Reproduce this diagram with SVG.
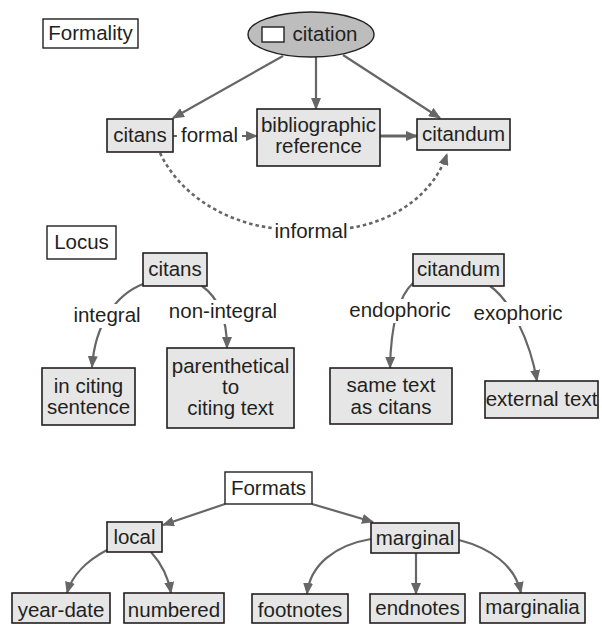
<svg xmlns="http://www.w3.org/2000/svg" width="602" height="624" viewBox="0 0 602 624">
<style>
text{font-family:"Liberation Sans",Arial,sans-serif;font-size:20.5px;fill:#231f20;text-anchor:middle}
.box{fill:#e6e6e6;stroke:#231f20;stroke-width:1.6}
.hdr{fill:#fff;stroke:#231f20;stroke-width:1.4}
.e{fill:none;stroke:#666;stroke-width:2.2}
.dot{fill:none;stroke:#666;stroke-width:2.6;stroke-dasharray:3.5 3}
.bg{fill:#fff}
</style>
<defs>
<marker id="ah" viewBox="0 0 12 10" refX="11" refY="5" markerWidth="12" markerHeight="10" markerUnits="userSpaceOnUse" orient="auto">
<path d="M0,0 L12,5 L0,10 Z" fill="#666"/>
</marker>
</defs>
<g id="connectors">
<path class="e" d="M283,56 L173,118" marker-end="url(#ah)"/>
<path class="e" d="M316,57 L316,109" marker-end="url(#ah)"/>
<path class="e" d="M343,55 L440,118" marker-end="url(#ah)"/>
<path class="e" d="M380,136 L417,136" style="stroke-width:3.2" marker-end="url(#ah)"/>
<path class="e" d="M173,136 L257,136" marker-end="url(#ah)"/>
<rect class="bg" x="177" y="124" width="65" height="24"/>
<text x="209.5" y="142">formal</text>
<path class="dot" d="M160,153 C180,195 225,222 272,228"/>
<path class="dot" d="M350,228 C400,220 435,190 447,154" marker-end="url(#ah)"/>
<text x="311" y="238">informal</text>
<path class="e" d="M143,284 C115,295 95,325 92,367" marker-end="url(#ah)"/>
<rect class="bg" x="72" y="304" width="70" height="24"/>
<text x="107" y="322">integral</text>
<path class="e" d="M202,286 C216,296 227,315 227,348" marker-end="url(#ah)"/>
<rect class="bg" x="168" y="300" width="110" height="24"/>
<text x="223" y="318">non-integral</text>
<path class="e" d="M413,283 C400,295 391,320 390,368" marker-end="url(#ah)"/>
<rect class="bg" x="348" y="299" width="104" height="24"/>
<text x="400" y="317">endophoric</text>
<path class="e" d="M490,286 C510,300 530,340 537,381" marker-end="url(#ah)"/>
<rect class="bg" x="472" y="302" width="92" height="24"/>
<text x="518" y="320">exophoric</text>
<path class="e" d="M225,504 L163,525" marker-end="url(#ah)"/>
<path class="e" d="M312,504 L373,522" marker-end="url(#ah)"/>
<path class="e" d="M107,550 C88,560 72,575 67,593" marker-end="url(#ah)"/>
<path class="e" d="M151,552 C160,562 168,575 171,593" marker-end="url(#ah)"/>
<path class="e" d="M371,539 C335,545 310,565 307,594" marker-end="url(#ah)"/>
<path class="e" d="M416,553 L416,594" marker-end="url(#ah)"/>
<path class="e" d="M459,540 C490,548 515,565 521,593" marker-end="url(#ah)"/>
</g>
<g id="formality"><rect class="hdr" x="43" y="19" width="95" height="29"/><text x="90.5" y="40">Formality</text></g>
<g id="citation"><ellipse cx="311" cy="34.5" rx="63" ry="22.5" fill="#bdbdbd" stroke="#231f20" stroke-width="1.4"/><rect x="262" y="27" width="22" height="15" fill="#fff" stroke="#231f20" stroke-width="1.4"/><text x="325" y="41">citation</text></g>
<g id="citans1"><rect class="box" x="107" y="119" width="66" height="33"/><text x="140" y="142">citans</text></g>
<g id="bibref"><rect class="box" x="257" y="109" width="123" height="57"/><text x="318.5" y="132">bibliographic</text><text x="318.5" y="153">reference</text></g>
<g id="citandum1"><rect class="box" x="417" y="119" width="93" height="31"/><text x="463.5" y="141">citandum</text></g>
<g id="locus"><rect class="hdr" x="47" y="226" width="69" height="33"/><text x="81.5" y="249">Locus</text></g>
<g id="citans2"><rect class="box" x="143" y="253" width="64" height="33"/><text x="175" y="276">citans</text></g>
<g id="incitingsentence"><rect class="box" x="42" y="368" width="93" height="57"/><text x="88.5" y="393">in citing</text><text x="88.5" y="414">sentence</text></g>
<g id="parenthetical"><rect class="box" x="167" y="348" width="127" height="80"/><text x="230.5" y="373">parenthetical</text><text x="230.5" y="394">to</text><text x="230.5" y="415">citing text</text></g>
<g id="citandum2"><rect class="box" x="413" y="254" width="91" height="32"/><text x="458.5" y="276">citandum</text></g>
<g id="sametext"><rect class="box" x="330" y="368" width="122" height="56"/><text x="391" y="392">same text</text><text x="391" y="414">as citans</text></g>
<g id="externaltext"><rect class="box" x="485" y="381" width="113" height="37"/><text x="541.5" y="406">external text</text></g>
<g id="formats"><rect class="hdr" x="225" y="472" width="87" height="32"/><text x="268.5" y="495">Formats</text></g>
<g id="local"><rect class="box" x="107" y="522" width="55" height="30"/><text x="134.5" y="544">local</text></g>
<g id="marginal"><rect class="box" x="371" y="523" width="88" height="30"/><text x="415" y="545">marginal</text></g>
<g id="yeardate"><rect class="box" x="12" y="593" width="98" height="30"/><text x="61" y="617">year-date</text></g>
<g id="numbered"><rect class="box" x="124" y="593" width="100" height="30"/><text x="174" y="617">numbered</text></g>
<g id="footnotes"><rect class="box" x="252" y="594" width="96" height="29"/><text x="300" y="617">footnotes</text></g>
<g id="endnotes"><rect class="box" x="370" y="594" width="95" height="29"/><text x="417.5" y="615">endnotes</text></g>
<g id="marginalia"><rect class="box" x="480" y="593" width="105" height="30"/><text x="532.5" y="614">marginalia</text></g>
</svg>
